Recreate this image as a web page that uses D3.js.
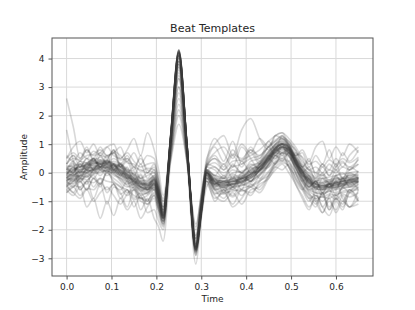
<!DOCTYPE html>
<html>
<head>
<meta charset="utf-8">
<script src="https://cdn.jsdelivr.net/npm/d3@7"></script>
<style>
  body { margin: 0; background: #fff; }
  text { font-family: "DejaVu Sans", sans-serif; fill: #262626; }
</style>
</head>
<body>
<div id="chart"></div>
<script>
"use strict";

// sample times (s) shared by every template
var time = [0, 0.015, 0.03, 0.045, 0.06, 0.075, 0.09, 0.105, 0.12, 0.135,
            0.15, 0.165, 0.18, 0.195, 0.205, 0.215, 0.232, 0.25, 0.268, 0.288,
            0.3, 0.312, 0.33, 0.35, 0.37, 0.39, 0.41, 0.43, 0.45, 0.465,
            0.48, 0.495, 0.51, 0.525, 0.54, 0.555, 0.57, 0.585, 0.6, 0.615,
            0.63, 0.65];

// beat templates, amplitude
var beats = [
  [-0.1,-0.05,0.0,0.1,0.2,0.25,0.25,0.2,0.05,-0.1,-0.3,-0.45,-0.5,-0.3,-0.8,-1.55,1.3,4.25,1.0,-2.65,-1.3,0.0,-0.35,-0.4,-0.35,-0.25,-0.1,0.15,0.5,0.8,0.95,0.8,0.4,0.0,-0.3,-0.45,-0.5,-0.45,-0.4,-0.35,-0.3,-0.25],
  [-0.25,-0.2,-0.1,0.0,0.1,0.15,0.2,0.1,-0.05,-0.2,-0.4,-0.55,-0.6,-0.4,-0.95,-1.6,1.25,4.2,0.95,-2.7,-1.35,-0.05,-0.45,-0.5,-0.45,-0.3,-0.2,0.05,0.4,0.7,0.9,0.75,0.3,-0.1,-0.4,-0.55,-0.6,-0.55,-0.5,-0.45,-0.35,-0.3],
  [0.05,0.1,0.15,0.25,0.3,0.35,0.3,0.25,0.15,0.0,-0.2,-0.35,-0.4,-0.2,-0.7,-1.45,1.35,4.3,1.05,-2.6,-1.25,0.05,-0.25,-0.3,-0.25,-0.15,0.0,0.25,0.6,0.9,1.05,0.9,0.5,0.1,-0.2,-0.35,-0.4,-0.35,-0.3,-0.25,-0.2,-0.15],
  [-0.3,-0.1,0.05,0.0,0.15,0.3,0.2,0.25,0.1,-0.15,-0.25,-0.5,-0.55,-0.25,-0.85,-1.5,1.3,4.2,1.0,-2.6,-1.3,0.0,-0.4,-0.3,-0.4,-0.2,-0.15,0.2,0.45,0.85,1.0,0.7,0.45,-0.05,-0.25,-0.5,-0.45,-0.5,-0.35,-0.4,-0.25,-0.3],
  [0.0,-0.1,0.1,0.15,0.25,0.2,0.3,0.15,0.0,-0.05,-0.35,-0.4,-0.45,-0.35,-0.75,-1.6,1.3,4.25,1.0,-2.7,-1.3,0.0,-0.3,-0.45,-0.3,-0.3,-0.05,0.1,0.55,0.75,0.9,0.85,0.35,0.05,-0.35,-0.4,-0.55,-0.4,-0.45,-0.3,-0.35,-0.2],
  [-0.4,-0.3,-0.2,-0.1,0.0,0.1,0.05,0.0,-0.1,-0.3,-0.5,-0.6,-0.7,-0.5,-1.0,-1.7,1.1,4.0,0.9,-2.75,-1.4,-0.1,-0.5,-0.55,-0.5,-0.4,-0.3,-0.05,0.3,0.6,0.8,0.65,0.2,-0.2,-0.5,-0.65,-0.7,-0.6,-0.55,-0.5,-0.45,-0.4],
  [0.2,0.25,0.3,0.35,0.45,0.4,0.4,0.35,0.25,0.1,-0.1,-0.25,-0.35,-0.15,-0.6,-1.4,1.4,4.3,1.1,-2.55,-1.2,0.1,-0.2,-0.2,-0.15,-0.05,0.1,0.35,0.7,1.0,1.1,0.95,0.55,0.2,-0.1,-0.25,-0.3,-0.25,-0.2,-0.15,-0.1,-0.05],
  [-0.15,0.0,0.05,0.2,0.15,0.3,0.25,0.15,0.1,-0.1,-0.3,-0.4,-0.5,-0.35,-0.9,-1.5,1.0,3.6,0.8,-2.4,-1.2,0.0,-0.35,-0.35,-0.3,-0.2,-0.05,0.2,0.5,0.75,0.9,0.8,0.45,0.0,-0.3,-0.4,-0.5,-0.4,-0.35,-0.3,-0.25,-0.2],
  [-0.5,-0.3,-0.1,0.1,0.0,0.2,0.4,0.3,0.0,-0.2,-0.2,-0.5,-0.6,-0.4,-0.9,-1.3,0.8,3.0,0.6,-2.3,-1.1,-0.1,-0.5,-0.3,-0.6,-0.2,-0.3,0.1,0.3,0.8,0.7,0.9,0.3,0.1,-0.5,-0.3,-0.7,-0.4,-0.6,-0.2,-0.5,-0.3],
  [0.3,0.6,0.2,0.5,0.1,0.6,0.3,0.7,0.2,0.4,-0.1,0.3,-0.2,0.1,-0.5,-0.9,0.6,2.2,0.5,-2.0,-0.7,0.3,0.9,0.4,1.1,0.3,0.8,0.4,0.9,0.6,1.0,0.4,0.7,0.2,0.5,-0.1,0.3,0.1,0.5,0.2,0.6,0.9],
  [-0.6,-0.8,-0.5,-1.2,-0.9,-1.6,-1.0,-1.5,-0.9,-1.3,-1.0,-1.6,-1.2,-0.9,-1.5,-1.9,0.9,3.5,0.7,-2.9,-1.5,-0.3,-0.8,-1.0,-0.7,-1.1,-0.6,-0.5,-0.1,0.3,0.4,0.2,-0.4,-0.8,-1.2,-0.9,-1.4,-1.0,-1.3,-0.8,-1.2,-1.1],
  [2.6,1.6,0.5,0.9,0.4,0.7,0.5,0.8,0.3,0.6,0.2,0.5,0.1,0.0,-0.6,-1.4,1.2,3.9,0.9,-2.5,-1.2,0.2,0.6,0.2,0.8,0.4,0.9,0.5,1.1,0.8,1.3,0.9,0.6,0.7,0.2,0.6,0.3,0.8,0.2,0.7,0.4,0.8],
  [1.5,0.4,-0.6,-0.3,-0.9,-0.4,-1.1,-0.5,-0.7,-1.2,-0.6,-1.3,-0.9,-1.6,-1.9,-2.4,0.5,2.8,0.4,-3.2,-1.6,-0.5,-0.2,-0.7,-0.1,-0.6,0.2,-0.2,0.3,0.6,0.4,0.7,0.0,-0.5,-0.9,-1.2,-0.7,-1.3,-0.9,-1.1,-0.6,-1.0],
  [0.5,0.9,1.1,0.7,1.0,0.6,0.9,1.0,0.5,0.8,1.2,0.6,1.4,0.8,0.1,-0.8,1.2,3.8,0.9,-2.2,-0.9,0.5,1.0,1.3,0.6,1.5,1.9,1.2,0.8,1.3,1.4,1.0,0.6,0.8,0.4,0.9,1.1,0.5,0.9,0.6,1.0,0.7],
  [-0.7,-0.5,-0.3,-0.6,-0.2,-0.4,0.0,-0.3,-0.5,-0.8,-0.6,-1.0,-1.1,-0.8,-1.3,-1.8,0.9,3.3,0.7,-2.8,-1.5,-0.4,-0.9,-0.7,-1.1,-0.6,-0.8,-0.3,-0.1,0.2,0.1,0.3,-0.2,-0.6,-1.0,-0.7,-1.2,-0.9,-1.4,-1.0,-1.2,-0.9],
  [-0.2,0.1,0.2,0.3,0.4,0.3,0.35,0.3,0.2,0.05,-0.2,-0.3,-0.45,-0.2,-0.75,-1.5,1.3,4.2,1.0,-2.7,-1.3,0.0,-0.3,-0.35,-0.3,-0.2,-0.05,0.2,0.55,0.85,1.0,0.85,0.45,0.05,-0.25,-0.4,-0.45,-0.4,-0.35,-0.3,-0.25,-0.2],
  [-0.35,-0.25,-0.15,-0.05,0.05,0.15,0.15,0.05,-0.1,-0.25,-0.45,-0.55,-0.6,-0.45,-0.9,-1.6,1.2,4.1,0.95,-2.7,-1.35,-0.05,-0.45,-0.5,-0.4,-0.35,-0.2,0.05,0.4,0.7,0.85,0.7,0.3,-0.1,-0.45,-0.6,-0.6,-0.55,-0.5,-0.45,-0.4,-0.35],
  [0.1,0.4,0.0,0.3,0.5,0.2,0.6,0.1,0.3,-0.2,0.0,-0.4,-0.3,-0.1,-0.6,-1.3,1.1,3.9,0.9,-2.5,-1.1,0.2,0.1,-0.2,0.3,0.0,0.4,0.5,0.9,1.1,1.3,1.0,0.8,0.3,0.1,-0.2,0.2,-0.1,0.3,-0.2,0.1,0.3],
  [-0.4,-0.7,-0.3,-0.6,-0.2,-0.5,0.1,-0.4,-0.6,-0.3,-0.9,-0.7,-1.0,-0.6,-1.2,-1.7,1.0,3.7,0.8,-2.6,-1.4,-0.2,-0.6,-0.9,-0.5,-0.8,-0.4,-0.6,-0.1,0.3,0.6,0.2,-0.1,-0.5,-0.8,-1.1,-0.7,-1.2,-0.8,-1.0,-0.6,-0.9],
  [-0.2,0.0,0.3,0.1,0.4,0.2,0.0,0.3,-0.1,0.2,-0.4,-0.1,-0.6,-0.5,-0.9,-1.2,0.7,2.6,0.6,-2.3,-1.0,0.1,-0.1,0.3,-0.2,0.4,0.0,0.3,0.6,0.5,0.9,0.6,0.2,-0.3,-0.1,-0.6,-0.2,-0.5,-0.1,-0.4,0.0,-0.2],
  [0.0,0.3,-0.2,0.2,0.5,0.1,0.4,0.8,0.2,0.5,0.1,0.6,0.0,0.3,-0.3,-1.0,0.4,1.7,0.4,-1.8,-0.8,0.4,1.2,0.7,0.2,0.9,0.5,0.1,0.5,0.3,0.7,0.2,-0.3,-0.6,-0.2,-1.0,-1.4,-0.8,-0.3,-0.9,-1.2,-0.6],
  [-0.15,-0.1,0.05,0.15,0.2,0.3,0.3,0.15,0.0,-0.15,-0.3,-0.5,-0.55,-0.35,-0.85,-1.55,1.3,4.25,1.0,-2.65,-1.3,0.0,-0.35,-0.45,-0.4,-0.25,-0.1,0.15,0.45,0.8,0.95,0.8,0.35,-0.05,-0.35,-0.5,-0.5,-0.5,-0.4,-0.4,-0.3,-0.25],
  [-0.05,0.05,0.1,0.2,0.3,0.35,0.3,0.25,0.1,-0.05,-0.25,-0.4,-0.45,-0.25,-0.75,-1.5,1.35,4.3,1.0,-2.6,-1.25,0.05,-0.3,-0.35,-0.3,-0.2,-0.05,0.2,0.55,0.85,1.0,0.85,0.45,0.05,-0.25,-0.4,-0.45,-0.4,-0.35,-0.3,-0.25,-0.2],
  [-0.3,-0.5,-0.2,-0.4,0.1,-0.1,0.2,0.0,-0.3,-0.5,-0.4,-0.8,-0.7,-0.5,-1.1,-1.6,1.1,3.9,0.9,-2.7,-1.3,-0.2,-0.6,-0.5,-0.8,-0.4,-0.5,-0.1,0.2,0.4,0.7,0.6,0.2,-0.3,-0.7,-1.0,-0.8,-1.3,-0.9,-1.2,-0.7,-0.4],
  [-0.1,0.2,-0.3,-0.1,-0.5,-0.2,-0.7,-0.4,-0.9,-0.6,-1.2,-0.8,-1.4,-1.3,-1.7,-2.0,0.9,3.4,0.7,-2.9,-1.4,-0.3,-0.4,-0.1,-0.5,0.0,-0.3,0.3,0.7,1.0,1.2,0.9,0.4,-0.2,-0.5,-0.3,-0.7,-0.4,-0.8,-0.5,-0.3,-0.6],
  [-0.25,-0.15,-0.05,0.05,0.15,0.2,0.2,0.1,-0.05,-0.2,-0.35,-0.5,-0.55,-0.4,-0.85,-1.55,1.25,4.2,1.0,-2.65,-1.3,0.0,-0.4,-0.45,-0.4,-0.3,-0.15,0.1,0.45,0.75,0.9,0.75,0.35,-0.05,-0.35,-0.5,-0.55,-0.5,-0.45,-0.4,-0.35,-0.3],
  [0.1,0.15,0.2,0.3,0.35,0.4,0.35,0.3,0.2,0.05,-0.15,-0.3,-0.4,-0.2,-0.7,-1.5,1.35,4.3,1.05,-2.6,-1.25,0.05,-0.25,-0.3,-0.2,-0.1,0.05,0.3,0.65,0.95,1.1,0.9,0.5,0.15,-0.15,-0.3,-0.35,-0.3,-0.25,-0.2,-0.15,-0.1],
  [-0.45,-0.35,-0.25,-0.15,-0.05,0.05,0.05,-0.05,-0.2,-0.35,-0.55,-0.65,-0.75,-0.55,-1.05,-1.7,1.15,4.1,0.95,-2.75,-1.4,-0.1,-0.55,-0.6,-0.55,-0.45,-0.3,-0.05,0.3,0.6,0.75,0.6,0.2,-0.25,-0.55,-0.7,-0.75,-0.65,-0.6,-0.55,-0.5,-0.45],
  [0.3,0.6,0.4,0.8,0.5,0.9,0.6,0.7,0.9,0.4,0.7,0.3,0.6,0.5,-0.2,-1.1,1.2,4.0,0.9,-2.3,-1.0,0.3,0.7,0.9,0.5,1.0,0.7,1.2,0.9,1.3,1.2,1.0,0.5,0.2,0.4,0.0,0.3,-0.1,0.2,0.4,0.1,0.5],
  [-0.5,-0.2,-0.6,-0.3,-0.1,-0.4,0.0,-0.2,-0.4,-0.7,-0.5,-0.9,-0.8,-0.6,-1.1,-1.7,1.1,3.8,0.8,-2.6,-1.3,-0.3,-1.0,-0.6,-1.2,-0.9,-0.5,-0.7,-0.2,0.1,0.3,0.0,-0.4,-0.9,-1.3,-0.8,-1.2,-1.5,-1.0,-1.3,-0.7,-1.0],
  [0.3,0.5,0.45,0.6,0.65,0.8,0.6,0.7,0.45,0.5,0.2,0.1,0.0,0.2,-0.4,-1.2,1.3,4.1,1.0,-2.5,-1.1,0.3,0.2,0.0,0.2,0.3,0.5,0.6,0.9,1.1,1.2,1.1,0.8,0.4,0.1,0.0,-0.1,0.1,0.0,0.2,0.1,0.3],
  [-0.6,-0.45,-0.5,-0.3,-0.35,-0.2,-0.3,-0.35,-0.5,-0.6,-0.8,-0.9,-0.95,-0.7,-1.2,-1.8,1.0,3.9,0.85,-2.8,-1.45,-0.2,-0.7,-0.75,-0.6,-0.65,-0.5,-0.3,0.0,0.35,0.5,0.4,0.0,-0.45,-0.75,-0.9,-0.85,-0.9,-0.75,-0.7,-0.65,-0.6],
  [0.1,0.35,0.2,0.5,0.4,0.55,0.35,0.5,0.3,0.1,0.05,-0.2,-0.1,0.0,-0.55,-1.4,1.2,4.2,1.0,-2.6,-1.2,0.1,-0.1,-0.15,0.1,0.0,0.25,0.35,0.75,0.95,1.05,0.9,0.6,0.2,0.0,-0.15,-0.05,-0.25,-0.1,0.0,-0.2,0.05],
  [-0.35,-0.4,-0.2,-0.25,-0.05,0.0,0.1,-0.1,-0.2,-0.45,-0.55,-0.75,-0.7,-0.55,-1.05,-1.65,1.1,4.05,0.9,-2.7,-1.35,-0.15,-0.55,-0.65,-0.5,-0.45,-0.35,-0.1,0.25,0.5,0.7,0.55,0.15,-0.3,-0.6,-0.7,-0.75,-0.65,-0.7,-0.55,-0.5,-0.5],
  [0.0,0.05,0.25,0.1,0.35,0.3,0.15,0.3,0.0,-0.1,-0.2,-0.45,-0.35,-0.3,-0.8,-1.35,0.9,3.3,0.75,-2.4,-1.15,0.0,-0.2,-0.4,-0.2,-0.35,0.0,0.05,0.45,0.7,0.85,0.7,0.4,-0.1,-0.2,-0.5,-0.35,-0.55,-0.3,-0.45,-0.25,-0.35],
  [0.6,0.4,0.7,0.5,0.75,0.6,0.55,0.75,0.6,0.35,0.3,0.05,0.15,0.1,-0.5,-1.3,1.2,4.1,0.95,-2.5,-1.1,0.2,0.35,0.1,0.4,0.45,0.6,0.8,1.1,1.3,1.4,1.2,0.9,0.5,0.1,0.2,0.0,0.3,0.1,0.35,0.2,0.45],
  [-0.7,-0.5,-0.8,-0.55,-0.6,-0.35,-0.6,-0.4,-0.75,-0.6,-0.95,-0.85,-1.1,-0.8,-1.3,-1.85,1.0,3.8,0.8,-2.85,-1.5,-0.3,-0.75,-0.6,-0.85,-0.6,-0.7,-0.4,-0.2,0.2,0.35,0.25,-0.2,-0.55,-0.9,-0.8,-1.0,-0.8,-0.95,-0.75,-0.85,-0.7],
  [-0.2,-0.05,-0.15,0.1,0.05,0.25,0.1,0.2,0.05,-0.15,-0.3,-0.35,-0.6,-0.4,-0.9,-1.6,1.25,4.2,1.0,-2.7,-1.3,-0.05,-0.35,-0.5,-0.3,-0.35,-0.1,0.1,0.4,0.75,0.9,0.8,0.35,-0.1,-0.3,-0.55,-0.45,-0.5,-0.4,-0.5,-0.3,-0.35],
  [0.15,0.0,0.3,0.2,0.45,0.3,0.45,0.2,0.3,0.05,-0.05,-0.3,-0.25,-0.15,-0.65,-1.45,1.3,4.25,1.05,-2.6,-1.25,0.05,-0.15,-0.3,-0.05,-0.2,0.15,0.2,0.6,0.85,1.0,0.95,0.5,0.15,-0.1,-0.3,-0.2,-0.35,-0.2,-0.25,-0.1,-0.2],
  [-0.3,-0.1,-0.35,0.0,-0.2,0.1,-0.1,0.05,-0.25,-0.4,-0.3,-0.65,-0.5,-0.6,-1.0,-1.3,0.6,2.4,0.5,-2.2,-1.0,-0.1,-0.4,-0.2,-0.5,-0.1,-0.3,0.1,0.2,0.6,0.5,0.7,0.1,-0.2,-0.5,-0.3,-0.6,-0.35,-0.55,-0.2,-0.45,-0.3],
  [-0.05,0.15,0.1,0.3,0.25,0.45,0.4,0.3,0.2,-0.05,-0.15,-0.35,-0.4,-0.25,-0.7,-1.5,1.3,4.25,1.0,-2.65,-1.25,0.05,-0.25,-0.3,-0.2,-0.15,0.05,0.25,0.55,0.9,1.0,0.9,0.5,0.05,-0.2,-0.35,-0.35,-0.3,-0.3,-0.2,-0.2,-0.15],
  [-0.2,-0.3,-0.1,-0.15,0.1,0.15,0.05,0.1,-0.15,-0.3,-0.45,-0.6,-0.65,-0.45,-0.95,-1.6,1.15,4.1,0.95,-2.7,-1.35,-0.15,-0.6,-0.7,-0.65,-0.55,-0.45,-0.25,0.05,0.35,0.45,0.35,0.0,-0.35,-0.65,-0.8,-0.85,-0.75,-0.8,-0.65,-0.6,-0.55],
  [0.5,0.7,0.5,0.8,0.6,0.7,0.9,0.6,0.5,0.7,0.4,0.2,0.3,0.35,-0.3,-1.2,1.25,4.15,1.0,-2.45,-1.1,0.25,0.5,0.3,0.65,0.5,0.8,0.6,0.95,1.15,1.25,1.1,0.7,0.55,0.3,0.4,0.2,0.45,0.3,0.5,0.35,0.55],
  [-0.15,-0.25,0.0,0.05,0.1,0.2,0.25,0.1,0.05,-0.2,-0.35,-0.5,-0.5,-0.35,-0.85,-1.55,1.25,4.15,0.95,-2.65,-1.3,0.0,-0.4,-0.4,-0.45,-0.3,-0.15,0.1,0.5,0.8,0.9,0.75,0.4,0.0,-0.35,-0.45,-0.55,-0.45,-0.45,-0.35,-0.35,-0.25],
  [-0.5,-0.7,-0.9,-0.6,-1.0,-0.7,-0.5,-0.8,-1.1,-0.75,-0.6,-0.9,-1.0,-0.75,-1.3,-1.75,1.0,3.7,0.8,-2.75,-1.4,-0.2,-0.3,-0.55,-0.35,-0.15,0.1,0.3,0.6,0.85,1.0,0.8,0.3,-0.2,-0.6,-0.5,-0.8,-0.6,-0.9,-0.5,-0.7,-0.5],
  [0.25,0.2,0.4,0.35,0.5,0.45,0.35,0.4,0.3,0.15,-0.05,-0.2,-0.3,-0.1,-0.6,-1.4,1.3,4.2,1.05,-2.55,-1.2,0.1,-0.1,-0.2,0.0,0.05,0.2,0.4,0.75,1.0,1.15,1.0,0.6,0.25,-0.05,-0.2,-0.2,-0.15,-0.1,-0.05,0.0,0.05],
  [-0.1,0.2,0.0,0.35,0.1,0.4,0.2,0.0,0.25,-0.1,-0.25,-0.05,-0.45,-0.3,-0.75,-1.2,0.8,3.0,0.6,-2.35,-1.05,0.05,0.2,-0.1,0.25,0.0,0.3,0.15,0.55,0.7,0.65,0.85,0.3,0.1,-0.15,-0.35,-0.1,-0.4,-0.15,-0.3,-0.05,-0.1],
  [-0.3,-0.15,-0.1,0.0,0.15,0.2,0.15,0.05,-0.05,-0.25,-0.4,-0.5,-0.6,-0.4,-0.9,-1.6,1.2,4.15,0.95,-2.7,-1.35,-0.05,-0.45,-0.45,-0.4,-0.35,-0.2,0.05,0.4,0.7,0.85,0.7,0.3,-0.15,-0.4,-0.55,-0.6,-0.5,-0.5,-0.45,-0.4,-0.3],
  [0.0,0.1,0.2,0.25,0.35,0.35,0.35,0.25,0.1,-0.05,-0.25,-0.35,-0.45,-0.25,-0.75,-1.5,1.3,4.25,1.0,-2.6,-1.3,0.0,-0.3,-0.35,-0.25,-0.2,-0.05,0.2,0.5,0.85,1.0,0.85,0.45,0.05,-0.25,-0.4,-0.45,-0.4,-0.35,-0.3,-0.25,-0.2],
  [0.2,0.0,0.4,0.15,0.5,0.2,0.45,0.1,0.35,0.0,0.2,-0.2,0.0,-0.2,-0.6,-1.0,0.5,2.0,0.4,-1.9,-0.8,0.2,0.5,0.1,0.6,0.2,0.7,0.3,0.6,0.9,0.6,0.8,0.3,0.0,0.2,-0.3,0.0,-0.35,0.1,-0.2,0.2,0.0]
];

var xTicks = [0.0, 0.1, 0.2, 0.3, 0.4, 0.5, 0.6];
var yTicks = [-3, -2, -1, 0, 1, 2, 3, 4];

// set the dimensions and margins of the graph
var margin = {top: 38, right: 42, bottom: 34, left: 52},
    width = 415 - margin.left - margin.right,
    height = 310 - margin.top - margin.bottom;

var svg = d3.select("#chart")
  .append("svg")
    .attr("width", 415)
    .attr("height", 310)
  .append("g")
    .attr("transform", "translate(" + margin.left + "," + margin.top + ")");

var x = d3.scaleLinear()
  .domain([-0.0325, 0.6825])
  .range([0, width]);

var y = d3.scaleLinear()
  .domain([-3.62, 4.72])
  .range([height, 0]);

// grid
svg.append("g")
  .selectAll("line")
  .data(xTicks)
  .join("line")
    .attr("x1", d => x(d)).attr("x2", d => x(d))
    .attr("y1", 0).attr("y2", height)
    .attr("stroke", "#d9d9d9").attr("stroke-width", 1);

svg.append("g")
  .selectAll("line")
  .data(yTicks)
  .join("line")
    .attr("x1", 0).attr("x2", width)
    .attr("y1", d => y(d)).attr("y2", d => y(d))
    .attr("stroke", "#d9d9d9").attr("stroke-width", 1);

// the templates
var line = d3.line()
  .x((d, i) => x(time[i]))
  .y(d => y(d))
  .curve(d3.curveMonotoneX);

svg.append("g")
  .selectAll("path")
  .data(beats)
  .join("path")
    .attr("fill", "none")
    .attr("stroke", "#3a3a3a")
    .attr("stroke-opacity", 0.2)
    .attr("stroke-width", 1.6)
    .attr("d", line);

// axes
var xAxis = svg.append("g")
  .attr("transform", "translate(0," + height + ")")
  .call(d3.axisBottom(x).tickValues(xTicks).tickFormat(d3.format(".1f")).tickSize(3.5).tickPadding(4));

var yAxis = svg.append("g")
  .call(d3.axisLeft(y).tickValues(yTicks).tickFormat(d => d < 0 ? "\u2212" + Math.abs(d) : d).tickSize(3.5).tickPadding(4));

[xAxis, yAxis].forEach(function(a) {
  a.select(".domain").remove();
  a.selectAll(".tick line").attr("stroke", "#555");
  a.selectAll(".tick text").attr("font-size", 9).attr("font-family", "DejaVu Sans").attr("fill", "#262626");
});

// frame
svg.append("rect")
  .attr("width", width).attr("height", height)
  .attr("fill", "none").attr("stroke", "#555").attr("stroke-width", 1);

// titles
svg.append("text")
  .attr("x", width / 2).attr("y", -6)
  .attr("text-anchor", "middle")
  .attr("font-size", 11)
  .text("Beat Templates");

svg.append("text")
  .attr("x", width / 2).attr("y", height + 26)
  .attr("text-anchor", "middle")
  .attr("font-size", 9)
  .text("Time");

svg.append("text")
  .attr("transform", "translate(-25," + (height / 2) + ") rotate(-90)")
  .attr("text-anchor", "middle")
  .attr("font-size", 9)
  .text("Amplitude");
</script>
</body>
</html>
